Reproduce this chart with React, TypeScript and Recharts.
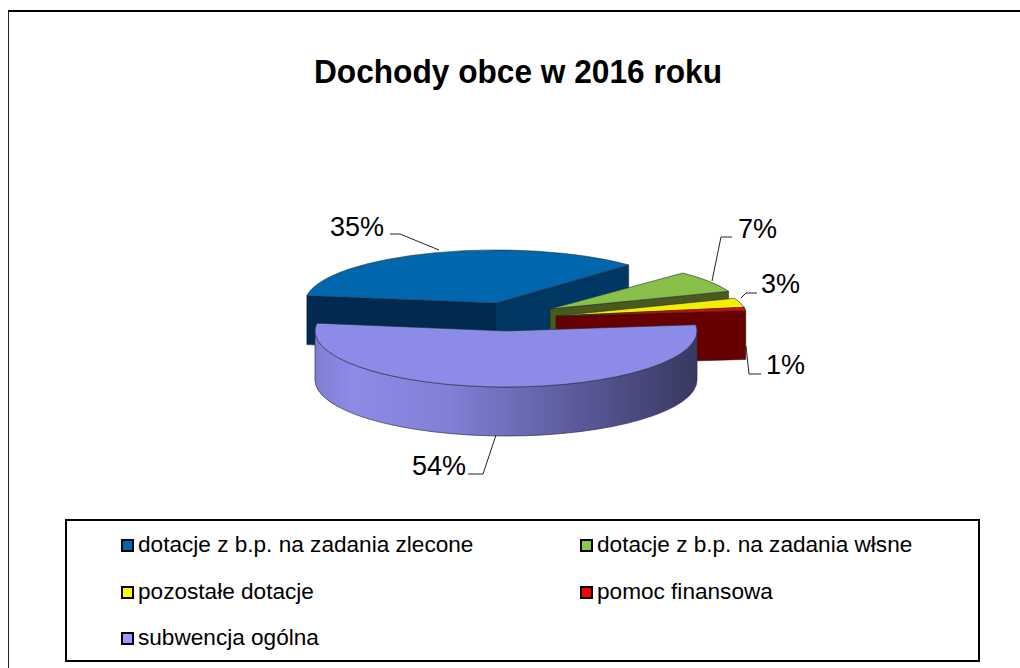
import { PieChart, Pie, Legend } from 'recharts'

const categories = [
  'dotacje z b.p. na zadania zlecone',
  'dotacje z b.p. na zadania włsne',
  'pozostałe dotacje',
  'pomoc finansowa',
  'subwencja ogólna',
]
const shares = [35, 7, 3, 1, 54]
const faceColors = ['#0066ad', '#8abf4a', '#f2f000', '#f00000', '#8c8ce8']
const legendColors = ['#0066b3', '#8cc84b', '#ffff00', '#ff0000', '#9999ff']

const data = categories.map((name, i) => ({ name, value: shares[i], fill: faceColors[i] }))

// the 3D look: every slice is pulled away from the pie centre on its own
const CX = 506
const CY = 331
const RADIUS = 191
const DEPTH = 49
const explode = [
  { dx: -10, dy: -28, ry: 53 },
  { dx: 44, dy: -22, ry: 50 },
  { dx: 50, dy: -15, ry: 50 },
  { dx: 50, dy: -15, ry: 50 },
  { dx: 0, dy: 0, ry: 56 },
]
const wallColors = [
  { start: '#002a4f', end: '#003763' },
  { start: null, end: '#4a5a1c' },
  { start: null, end: '#8f8c00' },
  { start: null, end: '#660000' },
  { start: null, end: null },
]

const leaders = [
  { x: 330, y: 236, line: '390,234 400,234 439,250' },
  { x: 738, y: 238, line: '732,237 721,237 712,281' },
  { x: 761, y: 293, line: '757,293 746,293 741,298' },
  { x: 766, y: 374, line: '761,374 749,374 746,346' },
  { x: 412, y: 475, line: '468,474 483,474 496,435' },
]

function SliceShape(props: any) {
  const { startAngle, endAngle, outerRadius, fill, index, cx, cy } = props
  const { dx, dy, ry } = explode[index]
  const walls = wallColors[index]
  const ox = cx + dx
  const oy = cy + dy
  const pt = (deg: number) => {
    const a = (deg * Math.PI) / 180
    return [ox + outerRadius * Math.cos(a), oy - ry * Math.sin(a)]
  }
  const [sx, sy] = pt(startAngle)
  const [ex, ey] = pt(endAngle)
  const large = startAngle - endAngle > 180 ? 1 : 0
  const face = `M${ox},${oy} L${sx},${sy} A${outerRadius},${ry} 0 ${large} 1 ${ex},${ey} Z`
  const wall = (x: number, y: number) =>
    `M${ox},${oy} L${x},${y} L${x},${y + DEPTH} L${ox},${oy + DEPTH} Z`

  const frontFrom = Math.min(startAngle, 0)
  const frontTo = Math.max(endAngle, -180)
  let front = null
  if (frontFrom > frontTo) {
    const [ax, ay] = pt(frontFrom)
    const [bx, by] = pt(frontTo)
    front =
      `M${ax},${ay} A${outerRadius},${ry} 0 0 1 ${bx},${by} L${bx},${by + DEPTH} ` +
      `A${outerRadius},${ry} 0 0 0 ${ax},${ay + DEPTH} Z`
  }

  return (
    <g>
      <defs>
        <linearGradient id={`side${index}`} x1="0" y1="0" x2="1" y2="0">
          <stop offset="0%" stopColor="#7e7ed2" />
          <stop offset="10%" stopColor="#8c8ce8" />
          <stop offset="35%" stopColor="#8080d6" />
          <stop offset="75%" stopColor="#53538f" />
          <stop offset="100%" stopColor="#383860" />
        </linearGradient>
      </defs>
      {walls.start && <path d={wall(sx, sy)} fill={walls.start} stroke="#00203c" strokeWidth={0.5} />}
      {walls.end && <path d={wall(ex, ey)} fill={walls.end} stroke="#222" strokeWidth={0.5} />}
      {front && <path d={front} fill={`url(#side${index})`} stroke="#2c2c50" strokeWidth={0.7} />}
      <path d={face} fill={fill} stroke="#23303c" strokeWidth={0.6} />
    </g>
  )
}

function SliceLabel(props: any) {
  const { index, value } = props
  const l = leaders[index]
  return (
    <g>
      <polyline points={l.line} fill="none" stroke="#222" strokeWidth={1} />
      <text x={l.x} y={l.y} fontSize={27} fill="#000" fontFamily="Liberation Sans">
        {value}%
      </text>
    </g>
  )
}

const legendSlots = [
  { left: 54, top: 11 },
  { left: 513, top: 11 },
  { left: 54, top: 58 },
  { left: 513, top: 58 },
  { left: 54, top: 104 },
]

function LegendBox() {
  return (
    <div
      style={{
        position: 'relative',
        width: 911,
        height: 139,
        border: '2px solid #000',
        background: '#fff',
        fontFamily: 'Liberation Sans',
        fontSize: 22.6,
        color: '#000',
      }}
    >
      {categories.map((name, i) => (
        <div
          key={name}
          style={{ position: 'absolute', left: legendSlots[i].left, top: legendSlots[i].top, display: 'flex', alignItems: 'center', whiteSpace: 'nowrap', lineHeight: '26px' }}
        >
          <span
            style={{ width: 9, height: 9, border: '2px solid #000', background: legendColors[i], marginRight: 4 }}
          />
          {name}
        </div>
      ))}
    </div>
  )
}

export default function App() {
  return (
    <div style={{ position: 'absolute', left: 0, top: 0, width: 1020, height: 668, background: '#fff', overflow: 'hidden' }}>
      <div style={{ position: 'absolute', left: 8, top: 10, width: 1012, height: 658, borderTop: '2px solid #000', borderLeft: '1px solid #222', boxSizing: 'border-box' }} />
      <div style={{ position: 'absolute', left: 0, top: 0 }}>
        <PieChart width={1020} height={668} margin={{ top: 0, right: 0, bottom: 0, left: 0 }}>
          <text x={518} y={83} textAnchor="middle" fontSize={33} textLength={408} lengthAdjust="spacingAndGlyphs" fontWeight="bold" fontFamily="Liberation Sans" fill="#000">
            Dochody obce w 2016 roku
          </text>
          <Pie
            data={data}
            dataKey="value"
            nameKey="name"
            cx={CX}
            cy={CY}
            outerRadius={RADIUS}
            startAngle={172}
            endAngle={-188}
            stroke="none"
            shape={SliceShape}
            label={SliceLabel}
            labelLine={false}
            isAnimationActive={false}
          />
          <Legend content={<LegendBox />} wrapperStyle={{ position: 'absolute', left: 65, top: 519, width: 915, height: 143 }} />
        </PieChart>
      </div>
    </div>
  )
}
